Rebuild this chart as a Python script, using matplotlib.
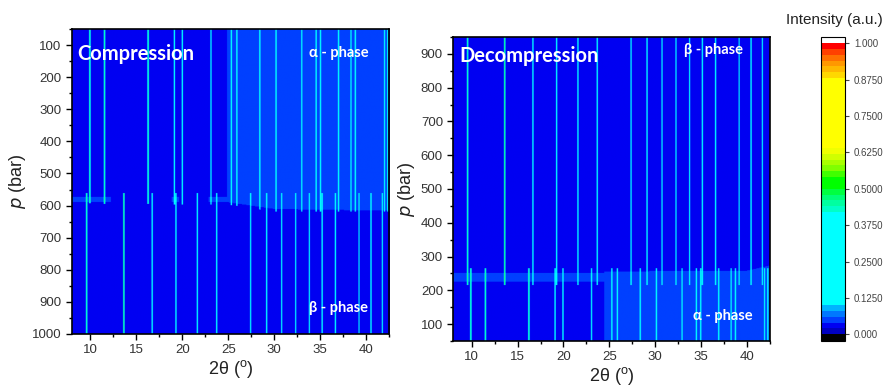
import numpy as np
import matplotlib
matplotlib.use('Agg')
import matplotlib.pyplot as plt
from matplotlib.colors import ListedColormap, BoundaryNorm

# posizioni dei picchi (2theta, gradi)
alpha_peaks = [9.93, 11.52, 16.25, 19.10, 19.96, 23.07, 25.28, 25.88, 28.37, 30.13,
               32.92, 34.48, 34.95, 36.91, 38.26, 38.73, 41.90, 42.25]
alpha_height = [0.45, 0.45, 0.45, 0.22, 0.22, 0.14, 0.22, 0.22, 0.2, 0.22,
                0.14, 0.22, 0.22, 0.2, 0.14, 0.14, 0.14, 0.14]
beta_peaks = [9.58, 13.62, 16.69, 19.27, 21.59, 23.69, 27.37, 29.11, 30.74, 32.26,
              33.74, 35.13, 36.57, 39.13, 40.43, 41.66]
beta_height = [0.45, 0.5, 0.22, 0.22, 0.22, 0.2, 0.14, 0.2, 0.14, 0.14,
               0.12, 0.2, 0.2, 0.12, 0.2, 0.12]

# livelli di fondo
bg_dark = 0.03   # fondo fase beta / zona bassa angolo
bg_light = 0.05  # fondo amorfo alto angolo fase alfa

# compressione: confine alfa/beta (p in bar) letto in alcuni punti
comp_edge_x = [8, 25, 30, 42.5]
comp_edge_p = [585, 590, 611, 616]
comp_amorph_x = 24.8
comp_band = [(8.0, 12.2), (18.8, 19.6), (22.8, 24.8)]  # tratti della banda a ~580 bar
comp_band_p = (574, 588)

# decompressione
dec_edge_x = [8, 24, 40, 42.5]
dec_edge_p = [250, 255, 258, 273]
dec_band_p = (226, 250)
dec_amorph_x = 24.45

# scala colori (stile Origin)
bounds = [-0.022, 0, 0.02, 0.04, 0.06, 0.08, 0.10, 0.42, 0.44, 0.46, 0.48, 0.50, 0.54,
          0.56, 0.58, 0.60, 0.62, 0.64, 0.88, 0.90, 0.92, 0.94, 0.96, 0.98, 1.0, 1.022]
band_colors = ['#000000', '#0000C0', '#0000F2', '#0040FF', '#0078FF', '#00B4FF', '#00FFFF',
               '#00FFC8', '#00FFA0', '#00FF78', '#00FF40', '#00FF00', '#40FF00', '#80FF00',
               '#A8FF00', '#D0FF00', '#F0FF00', '#FFFF00', '#FFD800', '#FFB800', '#FF9800',
               '#FF7000', '#FF4000', '#FF0000', '#FFFFFF']
cmap = ListedColormap(band_colors)
norm = BoundaryNorm(bounds, cmap.N)

x = np.arange(8, 42.5, 0.02)
sig = 0.04


def peaks(pos, h):
    s = np.zeros_like(x)
    for c, a in zip(pos, h):
        s = s + a * np.exp(-0.5 * ((x - c) / sig) ** 2)
    return s


alpha_line = peaks(alpha_peaks, alpha_height)
beta_line = peaks(beta_peaks, beta_height)

# mappa compressione
p1 = np.arange(50, 1001, 2)
Z1 = np.zeros((len(p1), len(x)))
edge1 = np.interp(x, comp_edge_x, comp_edge_p)
for i, p in enumerate(p1):
    alfa = p < edge1
    row = np.where(alfa & (x > comp_amorph_x), bg_light, bg_dark)
    if comp_band_p[0] <= p <= comp_band_p[1]:
        for a, b in comp_band:
            row = np.where((x >= a) & (x <= b), bg_light, row)
    if p < 620:
        row = row + alpha_line * (p < edge1 + 8)
    if p > 560:
        row = row + beta_line
    Z1[i] = np.minimum(row, 0.99)

# mappa decompressione
p2 = np.arange(50, 951, 2)
Z2 = np.zeros((len(p2), len(x)))
edge2 = np.interp(x, dec_edge_x, dec_edge_p)
for i, p in enumerate(p2):
    row = np.where((p < edge2) & (x > dec_amorph_x), bg_light, bg_dark)
    if dec_band_p[0] <= p <= dec_band_p[1]:
        row = np.full_like(x, bg_light)
    if p < 265:
        row = row + alpha_line
    if p > 215:
        row = row + beta_line
    Z2[i] = np.minimum(row, 0.99)

plt.rcParams['font.family'] = ['Liberation Sans', 'DejaVu Sans']
fig = plt.figure(figsize=(8.89, 3.87), dpi=100)

ax1 = fig.add_axes([0.081, 0.137, 0.3566, 0.788])
ax2 = fig.add_axes([0.510, 0.119, 0.356, 0.7855])
cax = fig.add_axes([0.923, 0.1196, 0.0273, 0.7855])

im = ax1.imshow(Z1, origin='lower', extent=[8, 42.5, 50, 1000], aspect='auto',
                cmap=cmap, norm=norm, interpolation='antialiased')
ax1.set_yticks(np.arange(100, 1001, 100))

ax2.imshow(Z2, origin='lower', extent=[8, 42.5, 50, 950], aspect='auto',
           cmap=cmap, norm=norm, interpolation='antialiased')
ax2.set_yticks(np.arange(100, 901, 100))

for ax in (ax1, ax2):
    ax.set_xticks([10, 15, 20, 25, 30, 35, 40])
    ax.set_xticks(np.arange(12.5, 42.6, 5), minor=True)
    ax.set_yticks(np.arange(50, 1001, 50), minor=True)
    ax.tick_params(which='both', direction='out', labelsize=9.5, colors='#333333',
                   top=False, right=False)
    ax.tick_params(which='major', length=4, width=1, color='black')
    ax.tick_params(which='minor', length=2.5, width=1, color='black')
    for s in ax.spines.values():
        s.set_linewidth(1.2)
    ax.set_xlabel('2θ ($^{\\mathregular{o}}$)', fontsize=13, color='#222222', labelpad=1)
    ax.set_ylabel('$\\it{p}$ (bar)', fontsize=13, color='#222222', labelpad=3)

# limiti dopo i tick
ax1.set_xlim(8, 42.5)
ax1.set_ylim(1000, 50)
ax2.set_xlim(8, 42.5)
ax2.set_ylim(50, 950)

tfont = dict(family=['Lato', 'DejaVu Sans'], fontweight='bold', color='white')
ax1.text(0.015, 0.917, 'Compression', transform=ax1.transAxes, fontsize=14.5, va='center', **tfont)
ax1.text(0.935, 0.921, 'α - phase', transform=ax1.transAxes, fontsize=10.5, va='center', ha='right', **tfont)
ax1.text(0.935, 0.085, 'β - phase', transform=ax1.transAxes, fontsize=10.5, va='center', ha='right', **tfont)
ax2.text(0.02, 0.937, 'Decompression', transform=ax2.transAxes, fontsize=14.5, va='center', **tfont)
ax2.text(0.915, 0.957, 'β - phase', transform=ax2.transAxes, fontsize=10.5, va='center', ha='right', **tfont)
ax2.text(0.945, 0.082, 'α - phase', transform=ax2.transAxes, fontsize=10.5, va='center', ha='right', **tfont)

cb = fig.colorbar(im, cax=cax, spacing='proportional', ticks=np.arange(0, 1.001, 0.125))
cb.ax.set_yticklabels(['0.000', '0.1250', '0.2500', '0.3750', '0.5000',
                       '0.6250', '0.7500', '0.8750', '1.000'])
cb.ax.tick_params(labelsize=7, colors='#444444', length=3, width=0.8)
cb.ax.minorticks_off()
cb.outline.set_linewidth(0.8)
fig.text(0.939, 0.948, 'Intensity (a.u.)', ha='center', va='center', fontsize=11, color='#222222')

plt.savefig('out.png', dpi=100)
